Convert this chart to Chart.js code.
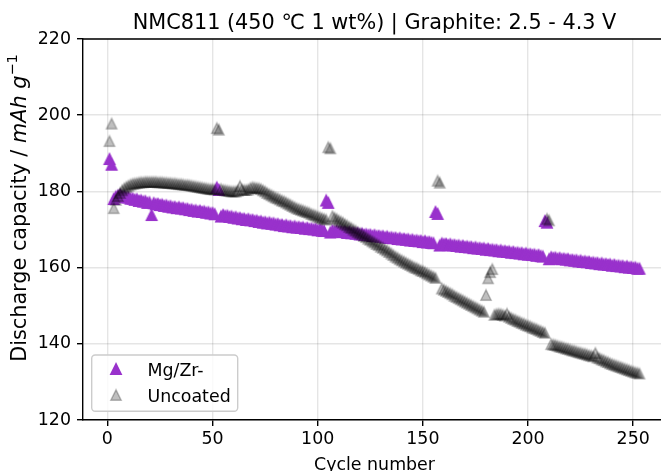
<!DOCTYPE html>
<html>
<head>
<meta charset="utf-8">
<title>NMC811 discharge capacity</title>
<script src="https://cdn.jsdelivr.net/npm/chart.js@4/dist/chart.umd.min.js"></script>
<style>
  html, body { margin: 0; padding: 0; background: #fff; overflow: hidden; }
  canvas { display: block; }
</style>
</head>
<body>
<canvas id="myChart" width="672" height="480"></canvas>
<script>
// discharge capacity (mAh/g), one value per cycle starting at cycle 1
const mgzr = [
  188.5, 187.0, 178.0, 178.6, 178.9, 179.1, 178.7, 178.7, 178.4, 178.4,
  178.1, 178.1, 177.8, 177.9, 177.5, 177.6, 177.3, 177.4, 177.0, 177.1,
  173.8, 176.9, 176.6, 176.7, 176.4, 176.5, 176.2, 176.3, 176.0, 176.1,
  175.8, 175.9, 175.6, 175.8, 175.5, 175.6, 175.3, 175.4, 175.1, 175.2,
  174.9, 175.0, 174.7, 174.9, 174.6, 174.7, 174.4, 174.5, 174.2, 174.3,
  174.0, 181.0, 180.4, 173.4, 173.8, 173.5, 173.6, 173.3, 173.4, 173.1,
  173.2, 172.9, 173.0, 172.7, 172.8, 172.5, 172.7, 172.4, 172.5, 172.2,
  172.3, 172.0, 172.1, 171.8, 171.9, 171.6, 171.8, 171.5, 171.6, 171.3,
  171.4, 171.1, 171.2, 170.9, 171.1, 170.8, 170.9, 170.6, 170.8, 170.5,
  170.6, 170.4, 170.5, 170.2, 170.4, 170.1, 170.2, 170.0, 170.1, 169.8,
  169.9, 169.7, 169.6, 177.6, 177.0, 169.2, 169.7, 169.5, 169.6, 169.4,
  169.5, 169.3, 169.4, 169.1, 169.3, 169.0, 169.1, 168.9, 169.0, 168.7,
  168.9, 168.6, 168.7, 168.5, 168.6, 168.3, 168.5, 168.2, 168.3, 168.1,
  168.2, 167.9, 168.1, 167.8, 167.9, 167.7, 167.8, 167.5, 167.7, 167.4,
  167.5, 167.3, 167.4, 167.1, 167.3, 167.0, 167.1, 166.9, 167.0, 166.7,
  166.9, 166.6, 166.7, 166.5, 166.4, 174.6, 174.1, 165.8, 166.3, 166.1,
  166.2, 165.9, 166.1, 165.8, 165.9, 165.7, 165.8, 165.5, 165.7, 165.4,
  165.5, 165.3, 165.4, 165.1, 165.3, 165.0, 165.1, 164.9, 165.0, 164.7,
  164.9, 164.6, 164.7, 164.5, 164.6, 164.3, 164.5, 164.2, 164.3, 164.1,
  164.2, 163.9, 164.1, 163.8, 163.9, 163.7, 163.8, 163.5, 163.7, 163.4,
  163.5, 163.3, 163.4, 163.1, 163.3, 163.0, 162.9, 172.2, 171.8, 162.2,
  162.7, 162.5, 162.6, 162.3, 162.5, 162.2, 162.3, 162.1, 162.2, 161.9,
  162.0, 161.8, 161.9, 161.6, 161.8, 161.5, 161.6, 161.4, 161.5, 161.2,
  161.3, 161.1, 161.2, 160.9, 161.1, 160.8, 160.9, 160.7, 160.8, 160.5,
  160.7, 160.4, 160.5, 160.3, 160.4, 160.1, 160.3, 160.0, 160.1, 159.9,
  160.0, 159.7, 159.7
];
const uncoated = [
  193.2, 197.8, 175.6, 177.8, 178.8, 179.6, 180.3, 180.8, 181.2, 181.5,
  181.8, 182.0, 182.1, 182.2, 182.3, 182.4, 182.4, 182.5, 182.5, 182.5,
  182.5, 182.5, 182.5, 182.4, 182.4, 182.4, 182.3, 182.3, 182.2, 182.2,
  182.1, 182.1, 182.0, 181.9, 181.9, 181.8, 181.7, 181.7, 181.6, 181.5,
  181.4, 181.3, 181.2, 181.1, 181.0, 180.9, 180.8, 180.7, 180.6, 180.6,
  180.5, 196.6, 196.2, 180.6, 180.4, 180.3, 180.2, 180.1, 180.0, 180.0,
  180.0, 180.2, 181.4, 180.5, 180.4, 180.4, 180.5, 180.9, 181.1, 181.0,
  180.9, 180.8, 180.6, 180.3, 180.0, 179.6, 179.3, 179.0, 178.7, 178.4,
  178.2, 177.9, 177.6, 177.4, 177.1, 176.8, 176.5, 176.2, 175.9, 175.6,
  175.4, 175.2, 175.0, 174.8, 174.6, 174.4, 174.1, 173.9, 173.7, 173.4,
  173.2, 173.0, 172.8, 172.6, 191.6, 191.3, 173.5, 173.1, 172.8, 172.4,
  172.1, 171.8, 171.4, 171.1, 170.7, 170.4, 170.0, 169.7, 169.3, 169.0,
  168.7, 168.3, 168.0, 167.6, 167.3, 166.9, 166.6, 166.2, 165.9, 165.5,
  165.2, 164.8, 164.5, 164.1, 163.7, 163.3, 162.9, 162.6, 162.2, 161.9,
  161.6, 161.3, 161.0, 160.7, 160.4, 160.1, 159.9, 159.6, 159.3, 159.1,
  158.8, 158.5, 158.2, 157.9, 157.6, 157.3, 182.8, 182.3, 154.5, 154.2,
  153.9, 153.6, 153.3, 153.0, 152.6, 152.3, 152.0, 151.7, 151.4, 151.1,
  150.8, 150.5, 150.2, 149.9, 149.6, 149.3, 149.0, 148.7, 148.4, 152.8,
  157.2, 158.8, 159.6, 147.6, 147.8, 147.9, 147.8, 147.6, 147.4, 147.9,
  147.1, 146.8, 146.5, 146.3, 146.0, 145.8, 145.5, 145.3, 145.0, 144.8,
  144.6, 144.3, 144.1, 143.9, 143.6, 143.4, 143.1, 142.9, 172.8, 172.4,
  139.9, 139.8, 139.7, 139.5, 139.3, 139.2, 139.0, 138.8, 138.7, 138.5,
  138.3, 138.2, 138.0, 137.8, 137.7, 137.5, 137.4, 137.2, 137.0, 136.9,
  136.7, 137.6, 136.4, 136.2, 135.9, 135.7, 135.4, 135.2, 134.9, 134.7,
  134.5, 134.3, 134.1, 133.9, 133.7, 133.5, 133.3, 133.1, 132.9, 132.7,
  132.5, 132.4, 132.2
];
const xTicks = [0, 50, 100, 150, 200, 250];
const yTicks = [120, 140, 160, 180, 200, 220];
const seriesNames = ['Mg/Zr-', 'Uncoated'];

const font = 'DejaVu Sans';

// matplotlib style "^" marker: fill + edge, both with the same alpha
function makeTriangle(fill, edge) {
  const c = document.createElement('canvas');
  c.width = 16;
  c.height = 16;
  const g = c.getContext('2d');
  const h = 5.2;
  g.beginPath();
  g.moveTo(8, 8 - h);
  g.lineTo(8 - h, 8 + h);
  g.lineTo(8 + h, 8 + h);
  g.closePath();
  g.fillStyle = fill;
  g.fill();
  g.lineWidth = 1.5;
  g.lineJoin = 'miter';
  g.strokeStyle = edge;
  g.stroke();
  return c;
}
const purpleTri = makeTriangle('rgb(153,50,204)', 'rgb(153,50,204)');
const grayTri = makeTriangle('rgba(0,0,0,0.25)', 'rgba(0,0,0,0.25)');

function toPoints(arr) {
  return arr.map((v, i) => ({ x: i + 1, y: v }));
}

// titles, y label with italic units, legend box, top/right spines
const extras = {
  id: 'extras',
  afterDraw(chart) {
    const c = chart.ctx;
    const a = chart.chartArea;
    const midX = (a.left + a.right) / 2;
    c.save();

    c.strokeStyle = '#000';
    c.lineWidth = 1.4;
    c.beginPath();
    c.moveTo(a.left, a.top);
    c.lineTo(a.right, a.top);
    c.lineTo(a.right, a.bottom);
    c.stroke();

    c.fillStyle = '#000';
    c.textAlign = 'center';
    c.textBaseline = 'alphabetic';
    c.font = '20.8px "' + font + '"';
    c.fillText('NMC811 (450 \u2103 1 wt%) | Graphite: 2.5 - 4.3 V', midX, 29);

    c.font = '17.4px "' + font + '"';
    c.fillText('Cycle number', midX, 470);

    // y label: "Discharge capacity / " + italic "mAh g" + superscript "-1"
    const ys = 20.8;
    const parts = [
      { t: 'Discharge capacity / ', f: ys + 'px "' + font + '"', dy: 0 },
      { t: 'mAh g', f: 'italic ' + ys + 'px "' + font + '"', dy: 0 },
      { t: '\u22121', f: (ys * 0.7) + 'px "' + font + '"', dy: -ys * 0.45 }
    ];
    let total = 0;
    parts.forEach(p => { c.font = p.f; p.w = c.measureText(p.t).width; total += p.w; });
    c.translate(26, 208);
    c.rotate(-Math.PI / 2);
    c.textAlign = 'left';
    let px = -total / 2;
    parts.forEach(p => { c.font = p.f; c.fillText(p.t, px, p.dy); px += p.w; });
    c.restore();

    // legend, lower left
    c.save();
    const bx = 91.7, by = 355, bw = 146, bh = 56.3;
    c.beginPath();
    c.roundRect(bx, by, bw, bh, 3.5);
    c.fillStyle = 'rgba(255,255,255,0.8)';
    c.fill();
    c.strokeStyle = '#cccccc';
    c.lineWidth = 1.4;
    c.stroke();
    const marks = [purpleTri, grayTri];
    c.font = '17.4px "' + font + '"';
    c.fillStyle = '#000';
    c.textAlign = 'left';
    seriesNames.forEach((name, i) => {
      const cy = 369 + i * 26;
      c.drawImage(marks[i], 116 - 8, cy - 8);
      c.fillText(name, 147.5, cy + 7);
    });
    c.restore();
  }
};

const ctx = document.getElementById('myChart').getContext('2d');
const myChart = new Chart(ctx, {
  type: 'scatter',
  data: {
    datasets: [
      // first dataset is drawn on top, like the uncoated markers in the figure
      { label: seriesNames[1], data: toPoints(uncoated), pointStyle: grayTri, pointRadius: 5, pointHoverRadius: 5 },
      { label: seriesNames[0], data: toPoints(mgzr), pointStyle: purpleTri, pointRadius: 5, pointHoverRadius: 5 }
    ]
  },
  options: {
    responsive: false,
    animation: false,
    devicePixelRatio: 1,
    events: [],
    layout: { padding: { top: 39, right: 4, left: 0, bottom: 0 } },
    plugins: {
      legend: { display: false },
      title: { display: false },
      tooltip: { enabled: false }
    },
    scales: {
      x: {
        type: 'linear',
        min: -11.6,
        max: 265.6,
        afterBuildTicks: s => { s.ticks = xTicks.map(v => ({ value: v })); },
        afterFit: s => { s.height = 60; },
        ticks: { color: '#000', padding: 3, maxRotation: 0, autoSkip: false, font: { family: font, size: 17.4 } },
        grid: { color: 'rgba(0,0,0,0.1)', lineWidth: 1.4, tickColor: '#000', tickLength: 6, tickWidth: 1.4 },
        border: { color: '#000', width: 1.4 }
      },
      y: {
        min: 120,
        max: 220,
        afterBuildTicks: s => { s.ticks = yTicks.map(v => ({ value: v })); },
        afterFit: s => { s.width = 83; },
        ticks: { color: '#000', padding: 6, autoSkip: false, font: { family: font, size: 17.4 } },
        grid: { color: 'rgba(0,0,0,0.1)', lineWidth: 1.4, tickColor: '#000', tickLength: 6, tickWidth: 1.4 },
        border: { color: '#000', width: 1.4 }
      }
    }
  },
  plugins: [extras]
});
</script>
</body>
</html>
